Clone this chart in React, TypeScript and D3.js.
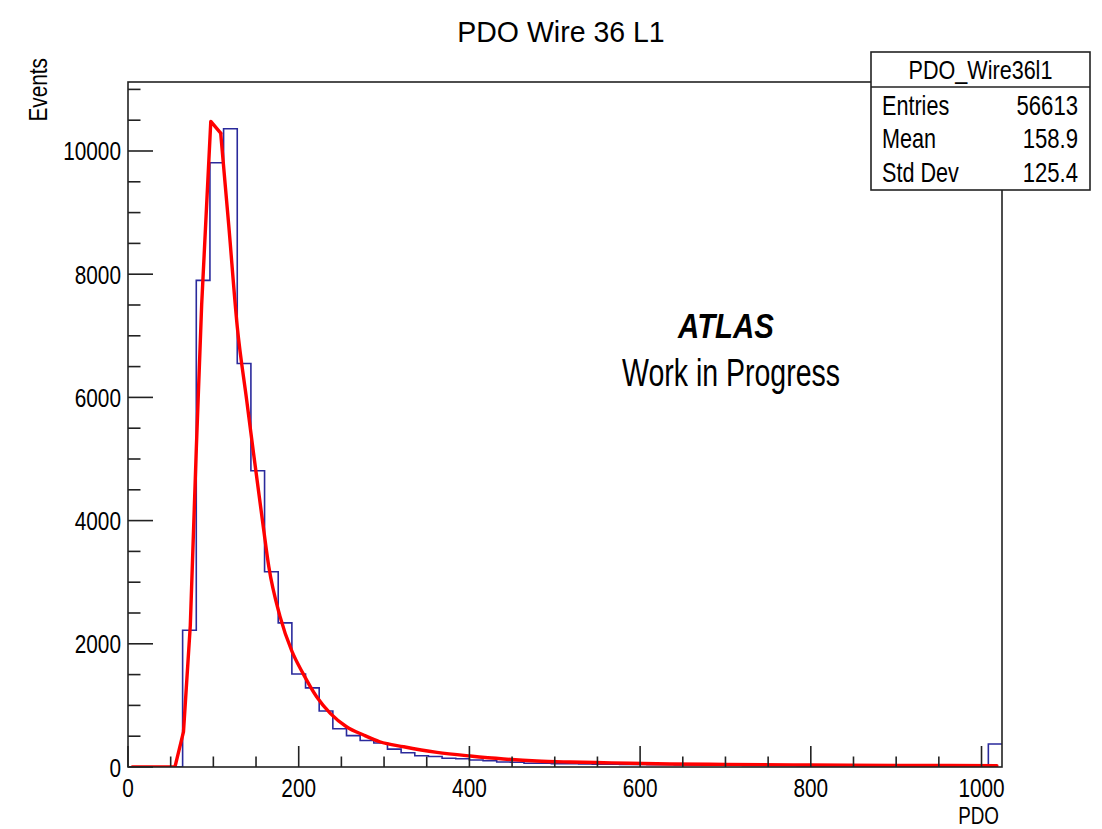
import React, { useEffect, useRef } from "react";
import * as d3 from "d3";

// histogram: 64 bins of width 16 over [0, 1024]
const binWidth = 16;
const binCounts = [
  0, 0, 0, 0, 2220, 7900, 9810, 10360, 6550, 4810, 3170, 2340, 1510, 1285, 910, 620,
  510, 430, 390, 290, 232, 183, 170, 141, 135, 114, 102, 81, 78, 60, 62, 55,
  52, 49, 47, 44, 42, 40, 38, 36, 35, 33, 31, 30, 29, 27, 26, 25,
  24, 23, 22, 21, 20, 19, 19, 18, 17, 17, 16, 15, 15, 14, 14, 373,
];

// fitted curve: rising edge + peak, then the falling tail
const fitRiseX = [5, 55, 65, 73, 80, 86.3, 97, 108.6];
const fitRiseY = [0, 0, 570, 2300, 5150, 7500, 10480, 10290];
const fitTailX = [108.6, 118, 128, 139, 147, 158.5, 165, 178, 192, 205, 221, 237, 256, 276, 295, 323, 362, 401, 440, 479, 518, 557, 588, 635, 700, 800, 900, 1018];
const fitTailY = [10290, 8800, 7150, 5960, 5100, 3900, 3250, 2450, 1880, 1520, 1140, 870, 654, 519, 410, 329, 238, 178, 130, 97, 81, 70, 60, 49, 42, 33, 27, 22];

const xTickLabels = [0, 200, 400, 600, 800, 1000];
const yTickLabels = [0, 2000, 4000, 6000, 8000, 10000];

const statsTitle = "PDO_Wire36l1";
const statsLabels = ["Entries", "Mean", "Std Dev"];
const statsValues = ["56613", "158.9", "125.4"];

export default function App() {
  const svgRef = useRef<SVGSVGElement>(null);

  useEffect(() => {
    const width = 1102;
    const height = 829;
    const frame = { left: 128, right: 1002, top: 82, bottom: 767 };
    const font = "'Liberation Sans', Arial, sans-serif";

    const svg = d3.select(svgRef.current).attr("width", width).attr("height", height);
    svg.selectAll("*").remove();

    svg.append("rect").attr("width", width).attr("height", height).attr("fill", "white");

    const x = d3.scaleLinear().domain([0, 1024]).range([frame.left, frame.right]);
    const y = d3.scaleLinear().domain([0, 11120]).range([frame.bottom, frame.top]);

    const txt = (px: number, py: number, s: string, size: number, sx: number, anchor: string) =>
      svg
        .append("text")
        .attr("transform", `translate(${px},${py}) scale(${sx},1)`)
        .attr("text-anchor", anchor)
        .attr("font-family", font)
        .attr("font-size", size)
        .attr("fill", "black")
        .text(s);

    svg
      .append("clipPath")
      .attr("id", "frameclip")
      .append("rect")
      .attr("x", frame.left)
      .attr("y", frame.top)
      .attr("width", frame.right - frame.left)
      .attr("height", frame.bottom - frame.top);

    const plot = svg.append("g").attr("clip-path", "url(#frameclip)");

    // histogram steps
    const steps: [number, number][] = binCounts.map((c, i) => [i * binWidth, c]);
    steps.push([binCounts.length * binWidth, binCounts[binCounts.length - 1]]);
    plot
      .append("path")
      .datum(steps)
      .attr("fill", "none")
      .attr("stroke", "#2a2a9c")
      .attr("stroke-width", 1.6)
      .attr(
        "d",
        d3
          .line<[number, number]>()
          .x((d) => x(d[0]))
          .y((d) => y(d[1]))
          .curve(d3.curveStepAfter)
      );

    // fit
    const fitLine = (curve: d3.CurveFactory) =>
      d3
        .line<[number, number]>()
        .x((d) => x(d[0]))
        .y((d) => y(d[1]))
        .curve(curve);
    const rise = fitRiseX.map((v, i) => [v, fitRiseY[i]] as [number, number]);
    const tail = fitTailX.map((v, i) => [v, fitTailY[i]] as [number, number]);
    const fitG = plot
      .append("g")
      .attr("fill", "none")
      .attr("stroke", "#ff0000")
      .attr("stroke-width", 3.4)
      .attr("stroke-linejoin", "round")
      .attr("stroke-linecap", "round");
    fitG.append("path").datum(rise).attr("d", fitLine(d3.curveLinear));
    fitG.append("path").datum(tail).attr("d", fitLine(d3.curveMonotoneX));

    // frame
    svg
      .append("rect")
      .attr("x", frame.left)
      .attr("y", frame.top)
      .attr("width", frame.right - frame.left)
      .attr("height", frame.bottom - frame.top)
      .attr("fill", "none")
      .attr("stroke", "#222")
      .attr("stroke-width", 1.6);

    // y ticks
    d3.range(0, 11120, 500).forEach((v) => {
      const major = v % 2000 === 0;
      svg
        .append("line")
        .attr("x1", frame.left)
        .attr("x2", frame.left + (major ? 25 : 12.5))
        .attr("y1", y(v))
        .attr("y2", y(v))
        .attr("stroke", "#222")
        .attr("stroke-width", 1.6);
    });
    yTickLabels.forEach((v) => txt(121, y(v) + 9.5, String(v), 26, 0.8, "end"));

    // x ticks
    d3.range(0, 1024, 50).forEach((v) => {
      const major = v % 200 === 0;
      svg
        .append("line")
        .attr("x1", x(v))
        .attr("x2", x(v))
        .attr("y1", frame.bottom)
        .attr("y2", frame.bottom - (major ? 21 : 10.5))
        .attr("stroke", "#222")
        .attr("stroke-width", 1.6);
    });
    xTickLabels.forEach((v) => txt(x(v), 797, String(v), 26, 0.8, "middle"));

    // axis titles
    txt(999, 824, "PDO", 23, 0.82, "end");
    svg
      .append("text")
      .attr("transform", `translate(47,58) rotate(-90) scale(0.8,1)`)
      .attr("text-anchor", "end")
      .attr("font-family", font)
      .attr("font-size", 26)
      .text("Events");

    // title
    txt(561, 42, "PDO Wire 36 L1", 30, 0.95, "middle");

    // ATLAS label
    txt(726, 338, "ATLAS", 35, 0.84, "middle").attr("font-weight", "bold").attr("font-style", "italic");
    txt(731, 386, "Work in Progress", 38, 0.75, "middle");

    // stats box
    const box = { left: 871, right: 1090, top: 52, bottom: 190, sep: 87 };
    svg
      .append("rect")
      .attr("x", box.left)
      .attr("y", box.top)
      .attr("width", box.right - box.left)
      .attr("height", box.bottom - box.top)
      .attr("fill", "white")
      .attr("stroke", "#222")
      .attr("stroke-width", 1.6);
    svg
      .append("line")
      .attr("x1", box.left)
      .attr("x2", box.right)
      .attr("y1", box.sep)
      .attr("y2", box.sep)
      .attr("stroke", "#222")
      .attr("stroke-width", 1.6);
    txt((box.left + box.right) / 2, 79, statsTitle, 26, 0.83, "middle");
    const rowBase = [115, 148, 182];
    statsLabels.forEach((s, i) => txt(882, rowBase[i], s, 27, 0.8, "start"));
    statsValues.forEach((s, i) => txt(1078, rowBase[i], s, 27, 0.82, "end"));
  }, []);

  return (
    <div style={{ position: "absolute", left: 0, top: 0 }}>
      <svg ref={svgRef} style={{ display: "block" }}></svg>
    </div>
  );
}
